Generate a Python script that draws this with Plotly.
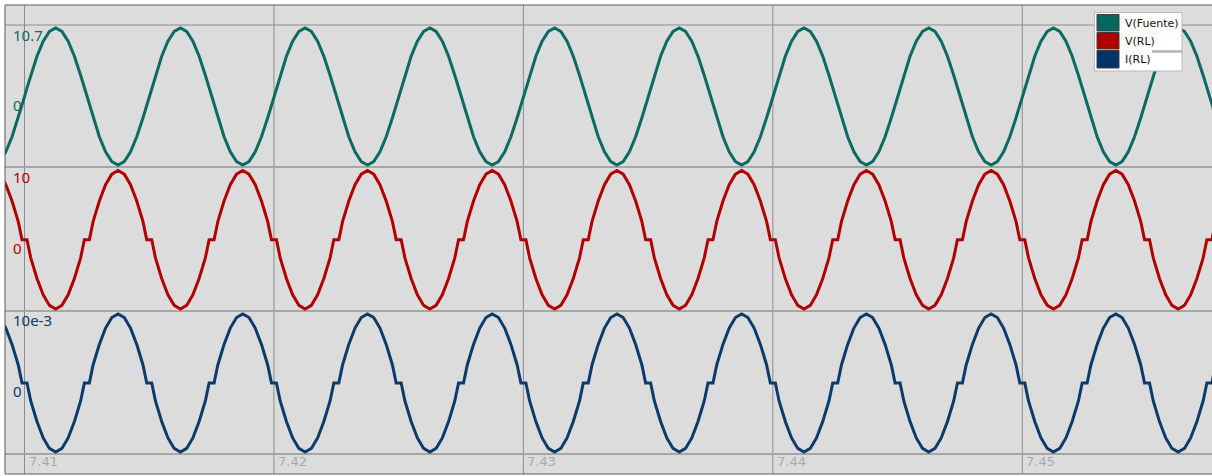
import plotly.graph_objects as go

# ---------------------------------------------------------------------------
# Simulation output: source voltage, load voltage and load current
# time axis: milliseconds after 7.400 s
# ---------------------------------------------------------------------------
T0 = 7.400

t_ms = [
    8.0, 8.25, 8.5, 8.75, 9.0, 9.25, 9.5, 9.75, 9.9,
    10.1, 10.25, 10.5, 10.75, 11.0, 11.25, 11.5, 11.75, 12.0, 12.25, 12.4, 12.6, 12.75, 13.0, 13.25, 13.5, 13.75, 14.0, 14.25, 14.5, 14.75, 14.9,
    15.1, 15.25, 15.5, 15.75, 16.0, 16.25, 16.5, 16.75, 17.0, 17.25, 17.4, 17.6, 17.75, 18.0, 18.25, 18.5, 18.75, 19.0, 19.25, 19.5, 19.75, 19.9,
    20.1, 20.25, 20.5, 20.75, 21.0, 21.25, 21.5, 21.75, 22.0, 22.25, 22.4, 22.6, 22.75, 23.0, 23.25, 23.5, 23.75, 24.0, 24.25, 24.5, 24.75, 24.9,
    25.1, 25.25, 25.5, 25.75, 26.0, 26.25, 26.5, 26.75, 27.0, 27.25, 27.4, 27.6, 27.75, 28.0, 28.25, 28.5, 28.75, 29.0, 29.25, 29.5, 29.75, 29.9,
    30.1, 30.25, 30.5, 30.75, 31.0, 31.25, 31.5, 31.75, 32.0, 32.25, 32.4, 32.6, 32.75, 33.0, 33.25, 33.5, 33.75, 34.0, 34.25, 34.5, 34.75, 34.9,
    35.1, 35.25, 35.5, 35.75, 36.0, 36.25, 36.5, 36.75, 37.0, 37.25, 37.4, 37.6, 37.75, 38.0, 38.25, 38.5, 38.75, 39.0, 39.25, 39.5, 39.75, 39.9,
    40.1, 40.25, 40.5, 40.75, 41.0, 41.25, 41.5, 41.75, 42.0, 42.25, 42.4, 42.6, 42.75, 43.0, 43.25, 43.5, 43.75, 44.0, 44.25, 44.5, 44.75, 44.9,
    45.1, 45.25, 45.5, 45.75, 46.0, 46.25, 46.5, 46.75, 47.0, 47.25, 47.4, 47.6, 47.75, 48.0, 48.25, 48.5, 48.75, 49.0, 49.25, 49.5, 49.75, 49.9,
    50.1, 50.25, 50.5, 50.75, 51.0, 51.25, 51.5, 51.75, 52.0, 52.25, 52.4, 52.6, 52.75, 53.0, 53.25, 53.5, 53.75, 54.0, 54.25, 54.5, 54.75, 54.9,
    55.1, 55.25, 55.5, 55.75, 56.0, 56.25, 56.5, 56.75, 57.0, 57.25, 57.4, 57.6, 57.75, 58.0,
]

# V(Fuente) in volts
v_fuente = [
    -6.29, -8.66, -10.18, -10.7, -10.18, -8.66, -6.29, -3.31, -1.34,
    1.34, 3.31, 6.29, 8.66, 10.18, 10.7, 10.18, 8.66, 6.29, 3.31, 1.34, -1.34, -3.31, -6.29, -8.66, -10.18, -10.7, -10.18, -8.66, -6.29, -3.31, -1.34,
    1.34, 3.31, 6.29, 8.66, 10.18, 10.7, 10.18, 8.66, 6.29, 3.31, 1.34, -1.34, -3.31, -6.29, -8.66, -10.18, -10.7, -10.18, -8.66, -6.29, -3.31, -1.34,
    1.34, 3.31, 6.29, 8.66, 10.18, 10.7, 10.18, 8.66, 6.29, 3.31, 1.34, -1.34, -3.31, -6.29, -8.66, -10.18, -10.7, -10.18, -8.66, -6.29, -3.31, -1.34,
    1.34, 3.31, 6.29, 8.66, 10.18, 10.7, 10.18, 8.66, 6.29, 3.31, 1.34, -1.34, -3.31, -6.29, -8.66, -10.18, -10.7, -10.18, -8.66, -6.29, -3.31, -1.34,
    1.34, 3.31, 6.29, 8.66, 10.18, 10.7, 10.18, 8.66, 6.29, 3.31, 1.34, -1.34, -3.31, -6.29, -8.66, -10.18, -10.7, -10.18, -8.66, -6.29, -3.31, -1.34,
    1.34, 3.31, 6.29, 8.66, 10.18, 10.7, 10.18, 8.66, 6.29, 3.31, 1.34, -1.34, -3.31, -6.29, -8.66, -10.18, -10.7, -10.18, -8.66, -6.29, -3.31, -1.34,
    1.34, 3.31, 6.29, 8.66, 10.18, 10.7, 10.18, 8.66, 6.29, 3.31, 1.34, -1.34, -3.31, -6.29, -8.66, -10.18, -10.7, -10.18, -8.66, -6.29, -3.31, -1.34,
    1.34, 3.31, 6.29, 8.66, 10.18, 10.7, 10.18, 8.66, 6.29, 3.31, 1.34, -1.34, -3.31, -6.29, -8.66, -10.18, -10.7, -10.18, -8.66, -6.29, -3.31, -1.34,
    1.34, 3.31, 6.29, 8.66, 10.18, 10.7, 10.18, 8.66, 6.29, 3.31, 1.34, -1.34, -3.31, -6.29, -8.66, -10.18, -10.7, -10.18, -8.66, -6.29, -3.31, -1.34,
    1.34, 3.31, 6.29, 8.66, 10.18, 10.7, 10.18, 8.66, 6.29, 3.31, 1.34, -1.34, -3.31, -6.29,
]

# V(RL) in volts
v_rl = [
    5.59, 7.96, 9.48, 10.0, 9.48, 7.96, 5.59, 2.61, 0.0,
    0.0, -2.61, -5.59, -7.96, -9.48, -10.0, -9.48, -7.96, -5.59, -2.61, 0.0, 0.0, 2.61, 5.59, 7.96, 9.48, 10.0, 9.48, 7.96, 5.59, 2.61, 0.0,
    0.0, -2.61, -5.59, -7.96, -9.48, -10.0, -9.48, -7.96, -5.59, -2.61, 0.0, 0.0, 2.61, 5.59, 7.96, 9.48, 10.0, 9.48, 7.96, 5.59, 2.61, 0.0,
    0.0, -2.61, -5.59, -7.96, -9.48, -10.0, -9.48, -7.96, -5.59, -2.61, 0.0, 0.0, 2.61, 5.59, 7.96, 9.48, 10.0, 9.48, 7.96, 5.59, 2.61, 0.0,
    0.0, -2.61, -5.59, -7.96, -9.48, -10.0, -9.48, -7.96, -5.59, -2.61, 0.0, 0.0, 2.61, 5.59, 7.96, 9.48, 10.0, 9.48, 7.96, 5.59, 2.61, 0.0,
    0.0, -2.61, -5.59, -7.96, -9.48, -10.0, -9.48, -7.96, -5.59, -2.61, 0.0, 0.0, 2.61, 5.59, 7.96, 9.48, 10.0, 9.48, 7.96, 5.59, 2.61, 0.0,
    0.0, -2.61, -5.59, -7.96, -9.48, -10.0, -9.48, -7.96, -5.59, -2.61, 0.0, 0.0, 2.61, 5.59, 7.96, 9.48, 10.0, 9.48, 7.96, 5.59, 2.61, 0.0,
    0.0, -2.61, -5.59, -7.96, -9.48, -10.0, -9.48, -7.96, -5.59, -2.61, 0.0, 0.0, 2.61, 5.59, 7.96, 9.48, 10.0, 9.48, 7.96, 5.59, 2.61, 0.0,
    0.0, -2.61, -5.59, -7.96, -9.48, -10.0, -9.48, -7.96, -5.59, -2.61, 0.0, 0.0, 2.61, 5.59, 7.96, 9.48, 10.0, 9.48, 7.96, 5.59, 2.61, 0.0,
    0.0, -2.61, -5.59, -7.96, -9.48, -10.0, -9.48, -7.96, -5.59, -2.61, 0.0, 0.0, 2.61, 5.59, 7.96, 9.48, 10.0, 9.48, 7.96, 5.59, 2.61, 0.0,
    0.0, -2.61, -5.59, -7.96, -9.48, -10.0, -9.48, -7.96, -5.59, -2.61, 0.0, 0.0, 2.61, 5.59,
]

# I(RL) in milliamperes
i_rl_ma = [
    5.59, 7.96, 9.48, 10.0, 9.48, 7.96, 5.59, 2.61, 0.0,
    0.0, -2.61, -5.59, -7.96, -9.48, -10.0, -9.48, -7.96, -5.59, -2.61, 0.0, 0.0, 2.61, 5.59, 7.96, 9.48, 10.0, 9.48, 7.96, 5.59, 2.61, 0.0,
    0.0, -2.61, -5.59, -7.96, -9.48, -10.0, -9.48, -7.96, -5.59, -2.61, 0.0, 0.0, 2.61, 5.59, 7.96, 9.48, 10.0, 9.48, 7.96, 5.59, 2.61, 0.0,
    0.0, -2.61, -5.59, -7.96, -9.48, -10.0, -9.48, -7.96, -5.59, -2.61, 0.0, 0.0, 2.61, 5.59, 7.96, 9.48, 10.0, 9.48, 7.96, 5.59, 2.61, 0.0,
    0.0, -2.61, -5.59, -7.96, -9.48, -10.0, -9.48, -7.96, -5.59, -2.61, 0.0, 0.0, 2.61, 5.59, 7.96, 9.48, 10.0, 9.48, 7.96, 5.59, 2.61, 0.0,
    0.0, -2.61, -5.59, -7.96, -9.48, -10.0, -9.48, -7.96, -5.59, -2.61, 0.0, 0.0, 2.61, 5.59, 7.96, 9.48, 10.0, 9.48, 7.96, 5.59, 2.61, 0.0,
    0.0, -2.61, -5.59, -7.96, -9.48, -10.0, -9.48, -7.96, -5.59, -2.61, 0.0, 0.0, 2.61, 5.59, 7.96, 9.48, 10.0, 9.48, 7.96, 5.59, 2.61, 0.0,
    0.0, -2.61, -5.59, -7.96, -9.48, -10.0, -9.48, -7.96, -5.59, -2.61, 0.0, 0.0, 2.61, 5.59, 7.96, 9.48, 10.0, 9.48, 7.96, 5.59, 2.61, 0.0,
    0.0, -2.61, -5.59, -7.96, -9.48, -10.0, -9.48, -7.96, -5.59, -2.61, 0.0, 0.0, 2.61, 5.59, 7.96, 9.48, 10.0, 9.48, 7.96, 5.59, 2.61, 0.0,
    0.0, -2.61, -5.59, -7.96, -9.48, -10.0, -9.48, -7.96, -5.59, -2.61, 0.0, 0.0, 2.61, 5.59, 7.96, 9.48, 10.0, 9.48, 7.96, 5.59, 2.61, 0.0,
    0.0, -2.61, -5.59, -7.96, -9.48, -10.0, -9.48, -7.96, -5.59, -2.61, 0.0, 0.0, 2.61, 5.59,
]

x_ticks = [7.41, 7.42, 7.43, 7.44, 7.45]
x_tick_text = ["7.41", "7.42", "7.43", "7.44", "7.45"]

series_names = ["V(Fuente)", "V(RL)", "I(RL)"]
src_ticks, src_tick_text = [10.7, 0], ["10.7", "0"]
rl_ticks, rl_tick_text = [10, 0], ["10", "0"]
i_ticks, i_tick_text = [10e-3, 0], ["10e-3", "0"]

# ---------------------------------------------------------------------------
# styling / geometry
# ---------------------------------------------------------------------------
W, H = 1212, 476
ML, MT, MB, MR = 5, 5, 2, 0
PW, PH = W - ML - MR, H - MT - MB

C_SRC, C_RL, C_I = "#0b6b63", "#b00000", "#0b3a6b"
SW_SRC, SW_RL, SW_I = "#05675f", "#b10000", "#003366"
GRID = "#8c8c8c"
SEP = "#a6a6a6"
BORDER = "#5c5c5c"


def px(x):
    """pixel column -> paper fraction"""
    return (x - ML) / PW


def py(y):
    """pixel row -> paper fraction"""
    return (H - MB - y) / PH


t = [T0 + v / 1000.0 for v in t_ms]
i_rl = [v * 1e-3 for v in i_rl_ma]

fig = go.Figure()
fig.add_trace(go.Scatter(x=t, y=v_fuente, xaxis="x", yaxis="y", mode="lines",
                         line=dict(color=C_SRC, width=3), name=series_names[0]))
fig.add_trace(go.Scatter(x=t, y=v_rl, xaxis="x", yaxis="y2", mode="lines",
                         line=dict(color=C_RL, width=3), name=series_names[1]))
fig.add_trace(go.Scatter(x=t, y=i_rl, xaxis="x", yaxis="y3", mode="lines",
                         line=dict(color=C_I, width=3), name=series_names[2]))

hidden = dict(showgrid=False, zeroline=False, showticklabels=False,
              showline=False, ticks="", fixedrange=True)

fig.update_layout(
    width=W, height=H,
    margin=dict(l=ML, r=MR, t=MT, b=MB, pad=0),
    paper_bgcolor="white",
    plot_bgcolor="rgba(0,0,0,0)",
    showlegend=False,
    xaxis=dict(range=[7.409218, 7.457605], anchor="y3", **hidden),
    yaxis=dict(domain=[py(167), 1.0], range=[-11.02, 14.30], **hidden),
    yaxis2=dict(domain=[py(311), py(167)], range=[-10.29, 10.51], **hidden),
    yaxis3=dict(domain=[py(454), py(311)], range=[-10.29e-3, 10.43e-3], **hidden),
)

shapes = []
# panel background
shapes.append(dict(type="rect", xref="paper", yref="paper", x0=0, x1=1, y0=0, y1=1,
                   fillcolor="#dcdcdc", line=dict(width=0), layer="below"))
# vertical time grid
for xv in x_ticks:
    shapes.append(dict(type="line", xref="x", yref="paper", x0=xv, x1=xv, y0=0, y1=1,
                       line=dict(color=GRID, width=1), layer="below"))
# top gridline of the source panel
shapes.append(dict(type="line", xref="paper", yref="paper", x0=0, x1=1, y0=py(25), y1=py(25),
                   line=dict(color=GRID, width=1), layer="below"))
# panel separators
for yy in (167, 311, 454):
    shapes.append(dict(type="line", xref="paper", yref="paper", x0=0, x1=1,
                       y0=py(yy), y1=py(yy), line=dict(color=SEP, width=2), layer="below"))
# faint dotted zero lines
for yref in ("y", "y2", "y3"):
    shapes.append(dict(type="line", xref="paper", yref=yref, x0=0, x1=1, y0=0, y1=0,
                       line=dict(color="#e7e7e7", width=1, dash="1px,9px"), layer="below"))
# frame
shapes.append(dict(type="line", xref="paper", yref="paper", x0=0, x1=1, y0=1, y1=1,
                   line=dict(color=BORDER, width=1), layer="above"))
shapes.append(dict(type="line", xref="paper", yref="paper", x0=0, x1=0, y0=0, y1=1,
                   line=dict(color=BORDER, width=1), layer="above"))
shapes.append(dict(type="line", xref="paper", yref="paper", x0=0, x1=1, y0=0, y1=0,
                   line=dict(color=BORDER, width=1), layer="above"))

# legend box with colour swatches
shapes.append(dict(type="rect", xref="paper", yref="paper",
                   x0=px(1094.5), x1=px(1182), y0=py(71), y1=py(12.5),
                   fillcolor="white", line=dict(color="#b9b9b9", width=1), layer="above"))
swatch_rows = [(14.5, 31), (32.5, 49), (50.5, 68)]
for (y0, y1), col in zip(swatch_rows, (SW_SRC, SW_RL, SW_I)):
    shapes.append(dict(type="rect", xref="paper", yref="paper",
                       x0=px(1097), x1=px(1119), y0=py(y1), y1=py(y0),
                       fillcolor=col, line=dict(color="#3c3c3c", width=1), layer="above"))
shapes.append(dict(type="line", xref="paper", yref="paper", x0=px(1152), x1=px(1182),
                   y0=py(51.5), y1=py(51.5), line=dict(color="#b4b4b4", width=2.5),
                   layer="above"))
fig.update_layout(shapes=shapes)

ann = []
# per-panel value labels
for yref, vals, texts, col in (("y", src_ticks, src_tick_text, C_SRC),
                               ("y2", rl_ticks, rl_tick_text, C_RL),
                               ("y3", i_ticks, i_tick_text, C_I)):
    for v, tx in zip(vals, texts):
        ann.append(dict(xref="paper", yref=yref, x=px(11), y=v, text=tx,
                        xanchor="left", yanchor="middle",
                        yshift=-8.5 if v == 0 else -6.5, showarrow=False,
                        font=dict(family="Noto Sans", size=15, color=col)))
# time labels
for xv, tx in zip(x_ticks, x_tick_text):
    ann.append(dict(xref="x", yref="paper", x=xv, y=py(461.5), text=tx,
                    xanchor="left", yanchor="middle", xshift=2, showarrow=False,
                    font=dict(family="DejaVu Sans", size=13, color="#a9a9a9")))
# legend entries
for name, yc in zip(series_names, (23.5, 41.5, 59.5)):
    ann.append(dict(xref="paper", yref="paper", x=px(1122.5), y=py(yc), text=name,
                    xanchor="left", yanchor="middle", showarrow=False,
                    font=dict(family="DejaVu Sans", size=11, color="#111111")))
fig.update_layout(annotations=ann)

fig.write_html("out.html")
